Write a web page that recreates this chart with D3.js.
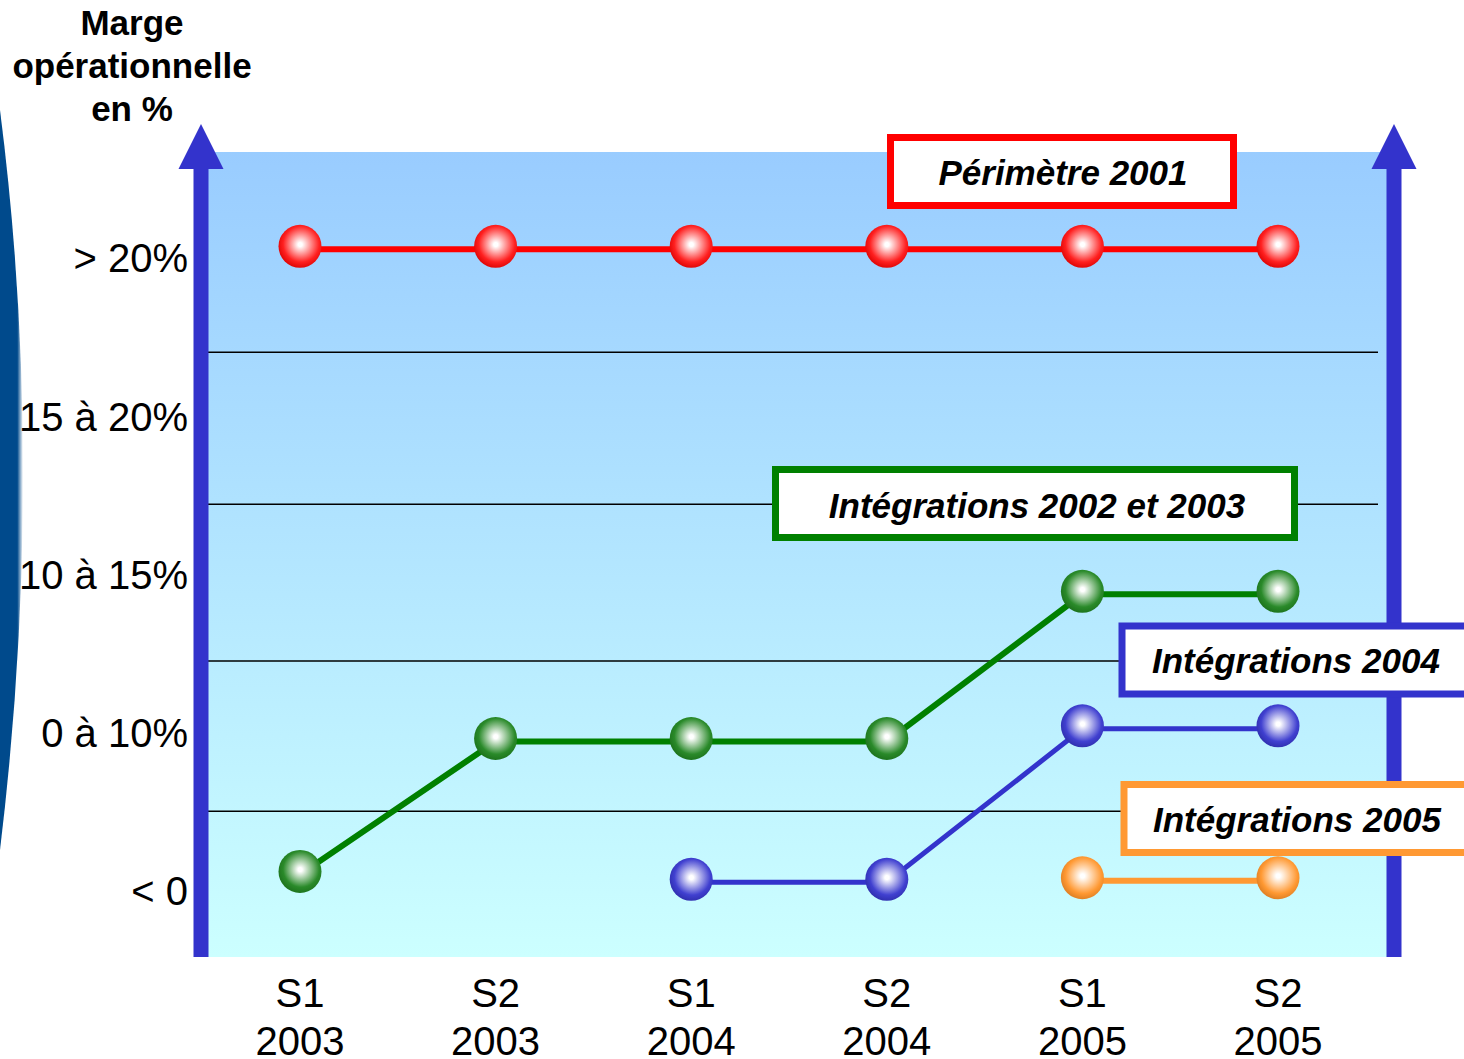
<!DOCTYPE html>
<html lang="fr">
<head>
  <meta charset="UTF-8">
  <title>Marge opérationnelle</title>
  <script src="https://d3js.org/d3.v7.min.js"></script>
  <style>
    body { margin: 0; background: #ffffff; }
    svg { display: block; font-family: "Liberation Sans", Arial, sans-serif; }
  </style>
</head>
<body>
  <svg id="chart" width="1464" height="1059"></svg>
  <script>
// periods on the x axis
const periods = ["S1 2003", "S2 2003", "S1 2004", "S2 2004", "S1 2005", "S2 2005"];
// margin classes, from bottom (0) to top (4)
const levelLabels = ["< 0", "0 à 10%", "10 à 15%", "15 à 20%", "> 20%"];
// band separators (in level units)
const bandLimits = [0.51, 1.46, 2.45, 3.41];

// position of each series in level units, null = not yet in scope
const perimetre2001 = [4.08, 4.08, 4.08, 4.08, 4.08, 4.08];
const integ2002_2003 = [0.13, 0.97, 0.97, 0.97, 1.90, 1.90];
const integ2004 = [null, null, 0.08, 0.08, 1.05, 1.05];
const integ2005 = [null, null, null, null, 0.09, 0.09];

const seriesNames = ["Périmètre 2001", "Intégrations 2002 et 2003", "Intégrations 2004", "Intégrations 2005"];
const seriesColors = ["#ff0000", "#008000", "#3333cc", "#ff9933"];
const ballColors = ["#ff2020", "#2a8a2a", "#4040d0", "#ff9933"];
const ballEdges = ["#d80000", "#1a6e1a", "#2c2ca8", "#d87a20"];

const series = [perimetre2001, integ2002_2003, integ2004, integ2005].map((vals, i) => ({
  name: seriesNames[i], color: seriesColors[i],
  values: vals.map((v, j) => ({ period: periods[j], v }))
}));

const svg = d3.select("#chart");
const defs = svg.append("defs");

const x = d3.scalePoint().domain(periods).range([300, 1278]);
const y = d3.scaleLinear().domain([0, 4]).range([892, 259]);

const plot = { left: 201, right: 1394, top: 152, bottom: 957 };

// gradients
const bg = defs.append("linearGradient").attr("id", "bg").attr("x1", 0).attr("y1", 0).attr("x2", 0).attr("y2", 1);
bg.append("stop").attr("offset", "0%").attr("stop-color", "#99ccff");
bg.append("stop").attr("offset", "100%").attr("stop-color", "#ccffff");

const side = defs.append("linearGradient").attr("id", "side").attr("x1", 0).attr("y1", 0).attr("x2", 1).attr("y2", 0);
side.append("stop").attr("offset", "0%").attr("stop-color", "#004a8c");
side.append("stop").attr("offset", "75%").attr("stop-color", "#004a8c");
side.append("stop").attr("offset", "100%").attr("stop-color", "#ffffff");

series.forEach((s, i) => {
  const g = defs.append("radialGradient").attr("id", "ball" + i)
    .attr("cx", "54%").attr("cy", "44%").attr("r", "60%").attr("fx", "50%").attr("fy", "46%");
  g.append("stop").attr("offset", "0%").attr("stop-color", "#ffffff");
  g.append("stop").attr("offset", "8%").attr("stop-color", "#ffffff");
  g.append("stop").attr("offset", "70%").attr("stop-color", ballColors[i]);
  g.append("stop").attr("offset", "100%").attr("stop-color", ballEdges[i]);
});

// slide decoration on the far left
svg.append("path")
  .attr("d", "M0,110 Q46,470 0,850 Z")
  .attr("fill", "url(#side)");

// plot background
svg.append("rect")
  .attr("x", plot.left).attr("y", plot.top)
  .attr("width", plot.right - plot.left).attr("height", plot.bottom - plot.top)
  .attr("fill", "url(#bg)");

// band separators
svg.append("g").selectAll("line")
  .data(bandLimits)
  .join("line")
  .attr("x1", 199).attr("x2", 1378)
  .attr("y1", d => y(d)).attr("y2", d => y(d))
  .attr("stroke", "#000").attr("stroke-width", 1.5);

// lines
const line = d3.line()
  .defined(d => d.v != null)
  .x(d => x(d.period))
  .y(d => y(d.v) + 3);

svg.append("g").selectAll("path")
  .data(series)
  .join("path")
  .attr("d", d => line(d.values))
  .attr("fill", "none")
  .attr("stroke", d => d.color)
  .attr("stroke-width", (d, i) => i === 2 ? 5 : 6);

// sphere markers
series.forEach((s, i) => {
  svg.append("g").selectAll("circle")
    .data(s.values.filter(d => d.v != null))
    .join("circle")
    .attr("cx", d => x(d.period))
    .attr("cy", d => y(d.v))
    .attr("r", 21.5)
    .attr("fill", `url(#ball${i})`);
});

// vertical arrows
const axisColor = "#3333cc";
[plot.left, plot.right].forEach(ax => {
  svg.append("line")
    .attr("x1", ax).attr("x2", ax)
    .attr("y1", 166).attr("y2", plot.bottom)
    .attr("stroke", axisColor).attr("stroke-width", 15);
  svg.append("path")
    .attr("d", `M${ax},124 L${ax - 22.5},169 L${ax + 22.5},169 Z`)
    .attr("fill", axisColor);
});

// y labels
const yAxis = svg.append("g")
  .attr("transform", "translate(188,0)")
  .call(d3.axisLeft(y).tickValues([0, 1, 2, 3, 4]).tickSize(0).tickPadding(0)
    .tickFormat(d => levelLabels[d]));
yAxis.select(".domain").remove();
yAxis.selectAll("text")
  .attr("font-size", 40).attr("fill", "#000")
  .attr("font-family", "'Liberation Sans', Arial, sans-serif");

// x labels on two lines
const xLab = svg.append("g").selectAll("text")
  .data(periods)
  .join("text")
  .attr("text-anchor", "middle")
  .attr("font-size", 40)
  .attr("fill", "#000");
xLab.append("tspan").attr("x", d => x(d)).attr("y", 1007).text(d => d.split(" ")[0]);
xLab.append("tspan").attr("x", d => x(d)).attr("y", 1055).text(d => d.split(" ")[1]);

// title
const title = svg.append("text")
  .attr("text-anchor", "middle")
  .attr("font-size", 35)
  .attr("font-weight", "bold")
  .attr("fill", "#000");
["Marge", "opérationnelle", "en %"].forEach((t, i) => {
  title.append("tspan").attr("x", 132).attr("y", 35 + i * 43).text(t);
});

// legend boxes
const boxes = [
  { x: 890.5, y: 137.5, w: 343, anchor: "middle", tx: 1063, ty: 185 },
  { x: 775.5, y: 469.5, w: 519, anchor: "middle", tx: 1037, ty: 518 },
  { x: 1122, y: 626, w: 400, anchor: "start", tx: 1152, ty: 673 },
  { x: 1124, y: 784.5, w: 400, anchor: "start", tx: 1153, ty: 832 }
];
const leg = svg.append("g").selectAll("g")
  .data(series)
  .join("g");
leg.append("rect")
  .attr("x", (d, i) => boxes[i].x).attr("y", (d, i) => boxes[i].y)
  .attr("width", (d, i) => boxes[i].w).attr("height", 68)
  .attr("fill", "#fff")
  .attr("stroke", d => d.color).attr("stroke-width", 7);
leg.append("text")
  .attr("x", (d, i) => boxes[i].tx).attr("y", (d, i) => boxes[i].ty)
  .attr("text-anchor", (d, i) => boxes[i].anchor)
  .attr("font-size", 35).attr("font-weight", "bold").attr("font-style", "italic")
  .attr("fill", "#000")
  .text(d => d.name);
  </script>
</body>
</html>
